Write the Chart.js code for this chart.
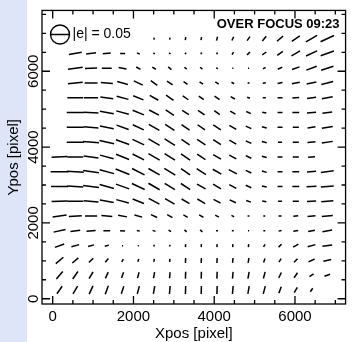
<!DOCTYPE html>
<html>
<head>
<meta charset="utf-8">
<script src="https://cdn.jsdelivr.net/npm/chart.js@4.4.1/dist/chart.umd.min.js"></script>
<style>
  html, body { margin: 0; padding: 0; background: #fff; }
  #wrap { width: 356px; height: 342px; }
</style>
</head>
<body>
<div id="wrap"><canvas id="chart" width="356" height="342"></canvas></div>
<script>
// whisker grid centres [pixel]
const colX = [170, 560, 950, 1340, 1730, 2120, 2510, 2900, 3290, 3680, 4070, 4460, 4850, 5240, 5630, 6020, 6410, 6800];
const rowY = [6860, 6470, 6080, 5690, 5300, 4910, 4520, 4130, 3740, 3350, 2960, 2570, 2180, 1790, 1400, 1010, 620, 230];

const n = null;
// |e| per row (top row first)
const ell = [
  [n, n, n, n, n, n, .005, .005, .008, .008, .011, .011, .013, .016, .021, .026, .034, .039],
  [n, .034, .026, .021, .013, .008, .005, .005, .005, .005, .005, .008, .011, .013, .018, .026, .032, .037],
  [n, .039, .032, .026, .021, .013, .011, .011, .008, .008, .005, .003, .003, .008, .013, .021, .029, .034],
  [n, .039, .034, .032, .029, .026, .021, .018, .013, .011, .011, .008, .005, .008, .013, .021, .026, .032],
  [n, .042, .037, .034, .032, .029, .026, .024, .018, .016, .016, .013, .008, .008, .013, .018, .024, .029],
  [n, .045, .039, .037, .034, .032, .029, .026, .021, .021, .018, .016, .013, .011, .013, .018, .024, .026],
  [n, .045, .039, .037, .034, .032, .032, .029, .026, .024, .024, .021, .016, .013, .013, .016, .021, .029],
  [n, .045, .042, .039, .037, .034, .034, .032, .026, .026, .024, .021, .016, .013, .011, .016, .021, .029],
  [.042, .042, .039, .037, .037, .034, .034, .032, .029, .026, .024, .021, .016, .013, .013, .016, .018, n],
  [.047, .045, .042, .039, .039, .037, .034, .034, .029, .029, .026, .024, .016, .013, .013, .018, .024, .034],
  [.045, .042, .042, .039, .037, .037, .034, .032, .029, .026, .024, .021, .016, .013, .013, .018, .026, .034],
  [.042, .042, .039, .037, .034, .032, .032, .029, .024, .024, .021, .018, .013, .011, .011, .016, .024, .032],
  [.037, .034, .032, .029, .024, .021, .018, .016, .013, .013, .011, .008, .005, .005, .008, .013, .021, .029],
  [.032, .026, .024, .018, .013, .008, .008, .008, .008, .008, .005, .005, .003, .005, .008, .013, .018, .026],
  [.026, .021, .016, .011, .003, .003, .005, .005, .008, .008, .008, .008, .008, .008, .011, .016, .021, .026],
  [.026, .021, .016, .013, .008, .008, .008, .008, .013, .013, .013, .013, .013, .011, .011, .013, .018, .021],
  [.026, .024, .021, .018, .016, .016, .016, .016, .018, .018, .018, .018, .018, .018, .016, .016, .013, .016],
  [.024, .024, .024, .024, .021, .021, .021, .021, .021, .021, .021, .021, .021, .021, .018, .016, .011, n]
];
// position angle [deg], counter-clockwise from +x
const posAngle = [
  [n, n, n, n, n, n, 80, 80, 80, 80, 75, 65, 55, 50, 40, 35, 30, 25],
  [n, 10, 8, 5, 0, -20, -40, -40, 60, 70, 70, 60, 45, 35, 35, 30, 25, 20],
  [n, 8, 3, 0, -10, -30, -30, -40, -40, -40, -40, 0, 0, 30, 25, 20, 20, 18],
  [n, 5, 0, -5, -15, -25, -35, -35, -35, -35, -35, -30, -20, 10, 10, 10, 12, 15],
  [n, 0, 0, -8, -15, -22, -30, -35, -35, -35, -35, -30, -20, 0, 0, 5, 8, 10],
  [n, 0, -3, -10, -15, -22, -28, -33, -33, -35, -35, -30, -25, -10, 0, 0, 5, 8],
  [n, 0, -5, -12, -20, -25, -30, -33, -35, -35, -33, -30, -25, -15, 0, 0, 8, 10],
  [n, 0, -5, -12, -20, -25, -30, -32, -35, -33, -33, -30, -25, -15, 0, 0, 5, 8],
  [3, 0, -8, -15, -22, -27, -30, -32, -35, -33, -30, -28, -25, -15, 0, 0, 5, n],
  [0, -3, -8, -15, -22, -27, -30, -32, -35, -33, -30, -28, -25, -15, 0, 0, 5, 8],
  [0, -3, -8, -15, -20, -25, -30, -32, -33, -30, -30, -28, -25, -10, 0, 0, 3, 5],
  [2, 0, -5, -10, -15, -22, -28, -30, -30, -30, -28, -25, -20, -10, 0, 0, 3, 5],
  [8, 3, 0, -5, -10, -15, -25, -30, -30, -30, -30, -30, 0, 0, 0, 5, 5, 5],
  [12, 8, 5, 0, -5, -10, -20, -30, -40, -40, 0, 0, 0, 0, 10, 10, 12, 10],
  [20, 15, 15, 15, 0, 0, 70, 70, 85, 85, 85, 85, 85, 60, 45, 30, 15, 8],
  [40, 40, 45, 50, 60, 70, 80, 85, 88, 88, 88, 85, 80, 70, 60, 45, 25, 12],
  [50, 55, 60, 65, 70, 75, 80, 85, 88, 88, 88, 85, 80, 75, 65, 55, 35, 20],
  [55, 60, 65, 70, 72, 75, 80, 85, 88, 88, 88, 85, 80, 75, 70, 60, 55, n]
];

const xTicks = [0, 2000, 4000, 6000];
const yTicks = [0, 2000, 4000, 6000];
const eRef = 0.05;
const pxPerE = 380; // whisker length on screen per unit |e|

const whiskers = [];
rowY.forEach((y, r) => {
  colX.forEach((x, c) => {
    if (ell[r][c] == null) return;
    whiskers.push({ x: x, y: y, e: ell[r][c], pa: posAngle[r][c] });
  });
});

const font = '"Liberation Sans", Arial, sans-serif';

const frame = {
  id: 'frame',
  beforeDraw(chart) {
    const ctx = chart.ctx;
    ctx.save();
    ctx.fillStyle = '#dfe5f8';
    ctx.fillRect(0, 0, 27, chart.height);
    ctx.restore();
  },
  afterDraw(chart) {
    const { ctx, chartArea: a } = chart;
    const sx = chart.scales.x, sy = chart.scales.y;
    ctx.save();
    ctx.strokeStyle = '#000';
    ctx.lineWidth = 1.3;
    ctx.strokeRect(a.left, a.top, a.right - a.left, a.bottom - a.top);

    ctx.beginPath();
    for (let v = 0; v <= sx.max; v += 500) {
      const p = sx.getPixelForValue(v);
      const len = v % 2000 === 0 ? 8 : 4;
      ctx.moveTo(p, a.bottom); ctx.lineTo(p, a.bottom - len);
      ctx.moveTo(p, a.top); ctx.lineTo(p, a.top + len);
    }
    for (let v = 0; v <= sy.max; v += 500) {
      const p = sy.getPixelForValue(v);
      const len = v % 2000 === 0 ? 8 : 4;
      ctx.moveTo(a.left, p); ctx.lineTo(a.left + len, p);
      ctx.moveTo(a.right, p); ctx.lineTo(a.right - len, p);
    }
    ctx.stroke();

    ctx.fillStyle = '#000';
    ctx.font = '15px ' + font;
    ctx.textAlign = 'center';
    ctx.textBaseline = 'middle';
    xTicks.forEach(v => ctx.fillText(String(v), sx.getPixelForValue(v), 317));
    yTicks.forEach(v => {
      ctx.save();
      ctx.translate(34, sy.getPixelForValue(v));
      ctx.rotate(-Math.PI / 2);
      ctx.fillText(String(v), 0, 0);
      ctx.restore();
    });
    ctx.fillText('Xpos [pixel]', (a.left + a.right) / 2, 334);
    ctx.save();
    ctx.translate(14, (a.top + a.bottom) / 2);
    ctx.rotate(-Math.PI / 2);
    ctx.fillText('Ypos [pixel]', 0, 0);
    ctx.restore();

    // key: circle of diameter |e| = 0.05
    const r = eRef * pxPerE / 2;
    const cx = a.left + 18, cy = a.top + 24;
    ctx.lineWidth = 1.4;
    ctx.beginPath();
    ctx.arc(cx, cy, r, 0, Math.PI * 2);
    ctx.moveTo(cx - r, cy); ctx.lineTo(cx + r, cy);
    ctx.stroke();
    ctx.font = '14px ' + font;
    ctx.textAlign = 'left';
    ctx.fillText('|e| = 0.05', cx + r + 3, cy);

    ctx.font = 'bold 13px ' + font;
    ctx.textAlign = 'right';
    ctx.fillText('OVER FOCUS 09:23', a.right - 6, a.top + 14);
    ctx.restore();
  }
};

new Chart(document.getElementById('chart'), {
  type: 'scatter',
  data: {
    datasets: [{
      data: whiskers,
      pointStyle: 'line',
      pointRadius: c => c.raw.e * pxPerE / 2,
      pointRotation: c => -c.raw.pa,
      pointBorderColor: '#000',
      pointBorderWidth: 1.5,
      pointBackgroundColor: '#000'
    }]
  },
  options: {
    responsive: false,
    animation: false,
    layout: { padding: { left: 42, right: 2, top: 9, bottom: 38 } },
    plugins: { legend: { display: false }, tooltip: { enabled: false } },
    scales: {
      x: { type: 'linear', min: -265, max: 7253, display: false },
      y: { type: 'linear', min: -139, max: 7604, display: false }
    }
  },
  plugins: [frame]
});
</script>
</body>
</html>
